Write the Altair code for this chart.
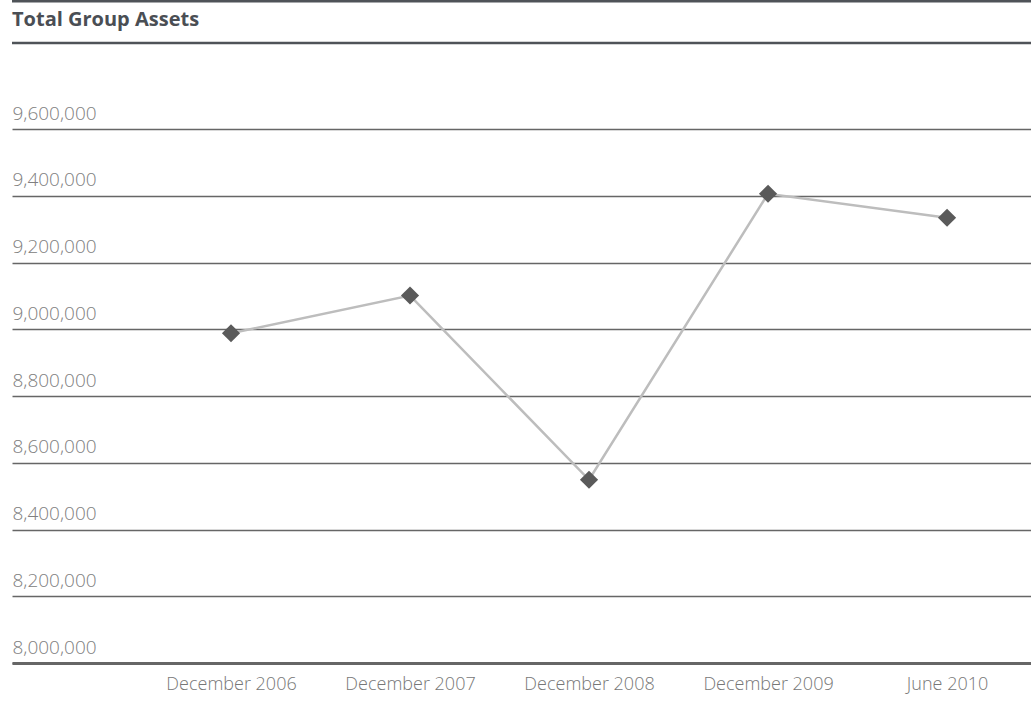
import altair as alt
import pandas as pd

periods = ["December 2006", "December 2007", "December 2008", "December 2009", "June 2010"]
assets = [8988000, 9101000, 8549000, 9406000, 9334000]
y_ticks = [8000000, 8200000, 8400000, 8600000, 8800000, 9000000, 9200000, 9400000, 9600000]
title_text = "Total Group Assets"

df = pd.DataFrame({"idx": list(range(len(periods))), "period": periods, "assets": assets})

W, H = 1019, 534
FONT = "Open Sans"

label_map = "[" + ",".join('"%s"' % p for p in periods) + "][datum.value]"

x_enc = alt.X(
    "idx:Q",
    scale=alt.Scale(domain=[-1.2235, 4.469], nice=False, zero=False),
    axis=alt.Axis(
        title=None, values=list(range(len(periods))), labelExpr=label_map,
        ticks=False, grid=False, domain=True,
        domainColor="#666666", domainWidth=3,
        labelFont=FONT, labelFontSize=18, labelFontWeight=300,
        labelColor="#777777", labelPadding=12, labelAngle=0,
        labelOverlap=False, labelFlush=False,
    ),
)
y_enc = alt.Y(
    "assets:Q",
    scale=alt.Scale(domain=[8000000, 9600000], nice=False, zero=False),
    axis=alt.Axis(
        title=None, values=y_ticks, format=",d", ticks=False, domain=False,
        grid=True, gridColor="#666666", gridWidth=1.5,
        labelAlign="left", labelBaseline="alphabetic", labelOffset=-10,
        labelPadding=0, labelFont=FONT, labelFontSize=19, labelFontWeight=300,
        labelColor="#808080", labelOverlap=False,
    ),
)

base = alt.Chart(df)
line = base.mark_line(color="#bdbdbd", strokeWidth=2.5).encode(x=x_enc, y=y_enc)
points = base.mark_point(shape="diamond", filled=True, size=330, color="#5a5a5a", opacity=1).encode(
    x=x_enc, y=y_enc
)

deco = pd.DataFrame({"t": [title_text]})
top_rule = alt.Chart(deco).mark_rule(color="#4f5358", strokeWidth=3).encode(
    x=alt.value(0), x2=alt.value(W), y=alt.value(-128), y2=alt.value(-128)
)
sub_rule = alt.Chart(deco).mark_rule(color="#4f5358", strokeWidth=2.5).encode(
    x=alt.value(0), x2=alt.value(W), y=alt.value(-86), y2=alt.value(-86)
)
title = alt.Chart(deco).mark_text(
    align="left", baseline="alphabetic", font=FONT, fontSize=20, fontWeight="bold", color="#4a4e54"
).encode(x=alt.value(0), y=alt.value(-103), text="t:N")

chart = alt.layer(top_rule, sub_rule, title, line, points).properties(
    width=W,
    height=H,
    background="white",
    autosize=alt.AutoSizeParams(type="none"),
    padding={"left": 12, "top": 129, "right": 0, "bottom": 40},
).configure_view(stroke="transparent", strokeWidth=0)

chart.save("out.html", embed_options={"renderer": "svg", "actions": False})
